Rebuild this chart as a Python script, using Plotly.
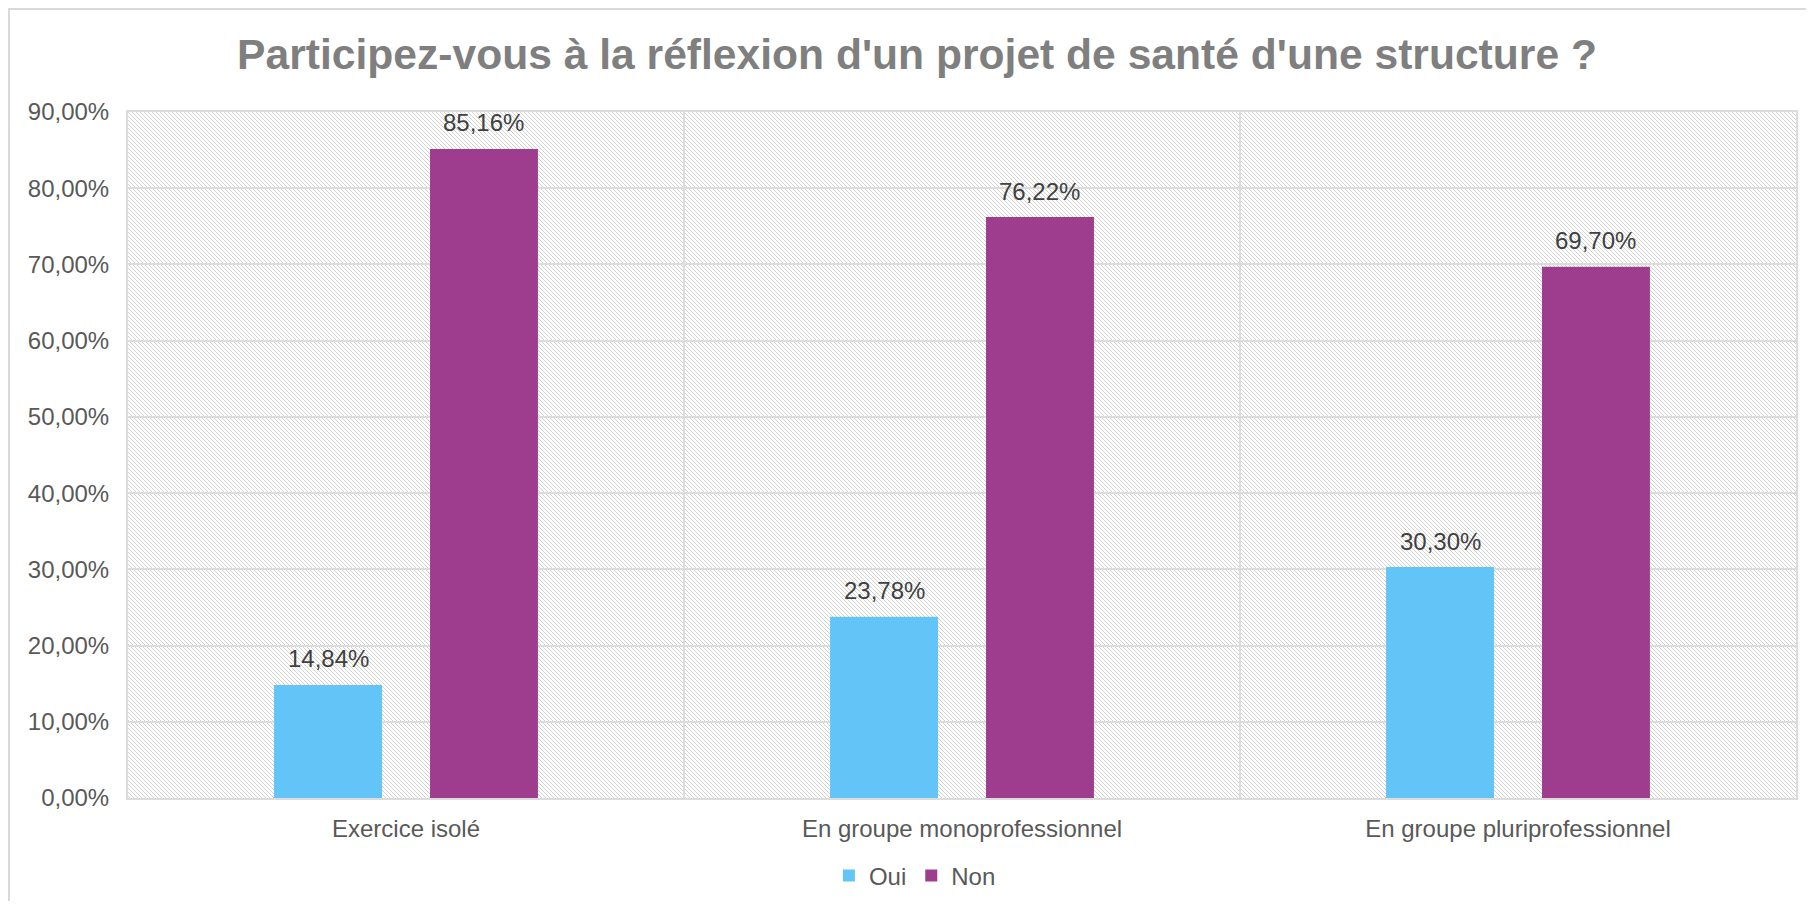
import base64
import plotly.graph_objects as go

# ---- data ----
categories = ["Exercice isolé", "En groupe monoprofessionnel", "En groupe pluriprofessionnel"]
series_names = ["Oui", "Non"]
oui_values = [0.1484, 0.2378, 0.3030]
non_values = [0.8516, 0.7622, 0.6970]
y_tick_values = [0.0, 0.1, 0.2, 0.3, 0.4, 0.5, 0.6, 0.7, 0.8, 0.9]
title_text = "Participez-vous à la réflexion d'un projet de santé d'une structure ?"

# ---- style ----
FONT = "Liberation Sans, Arial, sans-serif"
COLORS = ["#63C5F7", "#9E3D8E"]
GRID = "#dcdcdc"
W, H = 1798, 893
ML, MR, MT, MB = 120, 10, 104, 103
PW, PH = W - ML - MR, H - MT - MB
BARGAP = 0.439
BARGROUPGAP = 0.308

# hatch background (light downward diagonal)
px = "".join(f'<rect x="{i}" y="{i}" width="1" height="1" fill="#d2d2d2"/>' for i in range(4))
svg = (f'<svg xmlns="http://www.w3.org/2000/svg" width="{PW}" height="{PH}" '
       f'viewBox="0 0 {PW} {PH}" shape-rendering="crispEdges">'
       f'<defs><pattern id="p" width="4" height="4" patternUnits="userSpaceOnUse">{px}</pattern></defs>'
       f'<rect width="{PW}" height="{PH}" fill="white"/>'
       f'<rect width="{PW}" height="{PH}" fill="url(#p)"/></svg>')
hatch_uri = "data:image/svg+xml;base64," + base64.b64encode(svg.encode()).decode()

fig = go.Figure()
for name, vals, col in zip(series_names, [oui_values, non_values], COLORS):
    fig.add_trace(go.Bar(name=name, x=categories, y=vals, marker=dict(color=col, line=dict(width=0)),
                         hoverinfo="skip"))

# data labels above bars
slot = (1 - BARGAP) / len(series_names)
annotations = []
for i, vals in enumerate([oui_values, non_values]):
    for j, v in enumerate(vals):
        xpos = j + (i - (len(series_names) - 1) / 2) * slot
        annotations.append(dict(x=xpos, y=v, xref="x", yref="y",
                                text=f"{v*100:.2f}%".replace(".", ","),
                                showarrow=False, yanchor="middle", yshift=26,
                                font=dict(family=FONT, size=24, color="#404040")))

fig.update_layout(
    width=W, height=H,
    margin=dict(l=ML, r=MR, t=MT, b=MB, pad=0, autoexpand=False),
    paper_bgcolor="white", plot_bgcolor="white",
    separators=", ",
    barmode="group", bargap=BARGAP, bargroupgap=BARGROUPGAP,
    title=dict(text=title_text, x=909 / W, xanchor="center", xref="container",
               y=1 - 46 / H, yanchor="middle", yref="container",
               font=dict(family=FONT, size=42.6, color="#7F7F7F", weight="bold")),
    font=dict(family=FONT, size=24, color="#595959"),
    legend=dict(orientation="h", x=0.5044, xanchor="center", xref="container",
                y=1 - 868 / H, yanchor="middle", yref="container",
                font=dict(family=FONT, size=24, color="#595959"), traceorder="normal",
                itemclick=False),
    annotations=annotations,
    images=[dict(source=hatch_uri, xref="paper", yref="paper", x=0, y=1, sizex=1, sizey=1,
                 xanchor="left", yanchor="top", sizing="stretch", layer="below")],
    shapes=[dict(type="rect", xref="paper", yref="paper",
                 x0=(1 - ML) / PW, x1=(W + 20 - ML) / PW,
                 y0=-(MB + 20) / PH, y1=1 + (MT - 1) / PH,
                 line=dict(color="#d9d9d9", width=2), layer="below")],
    hovermode=False,
)
fig.update_xaxes(type="category", tickson="boundaries", showgrid=True, gridcolor=GRID, gridwidth=2,
                 showline=True, mirror=True, linecolor=GRID, linewidth=2, ticks="", automargin=False,
                 tickfont=dict(family=FONT, size=24, color="#595959"), ticklabelstandoff=8)
fig.update_yaxes(range=[0, 0.9], tickvals=y_tick_values, tickformat=".2%", showgrid=True,
                 gridcolor=GRID, gridwidth=2, zeroline=False, showline=True, mirror=True,
                 linecolor=GRID, linewidth=2, ticks="", automargin=False,
                 tickfont=dict(family=FONT, size=24, color="#595959"), ticklabelstandoff=12)

fig.write_html("out.html")
